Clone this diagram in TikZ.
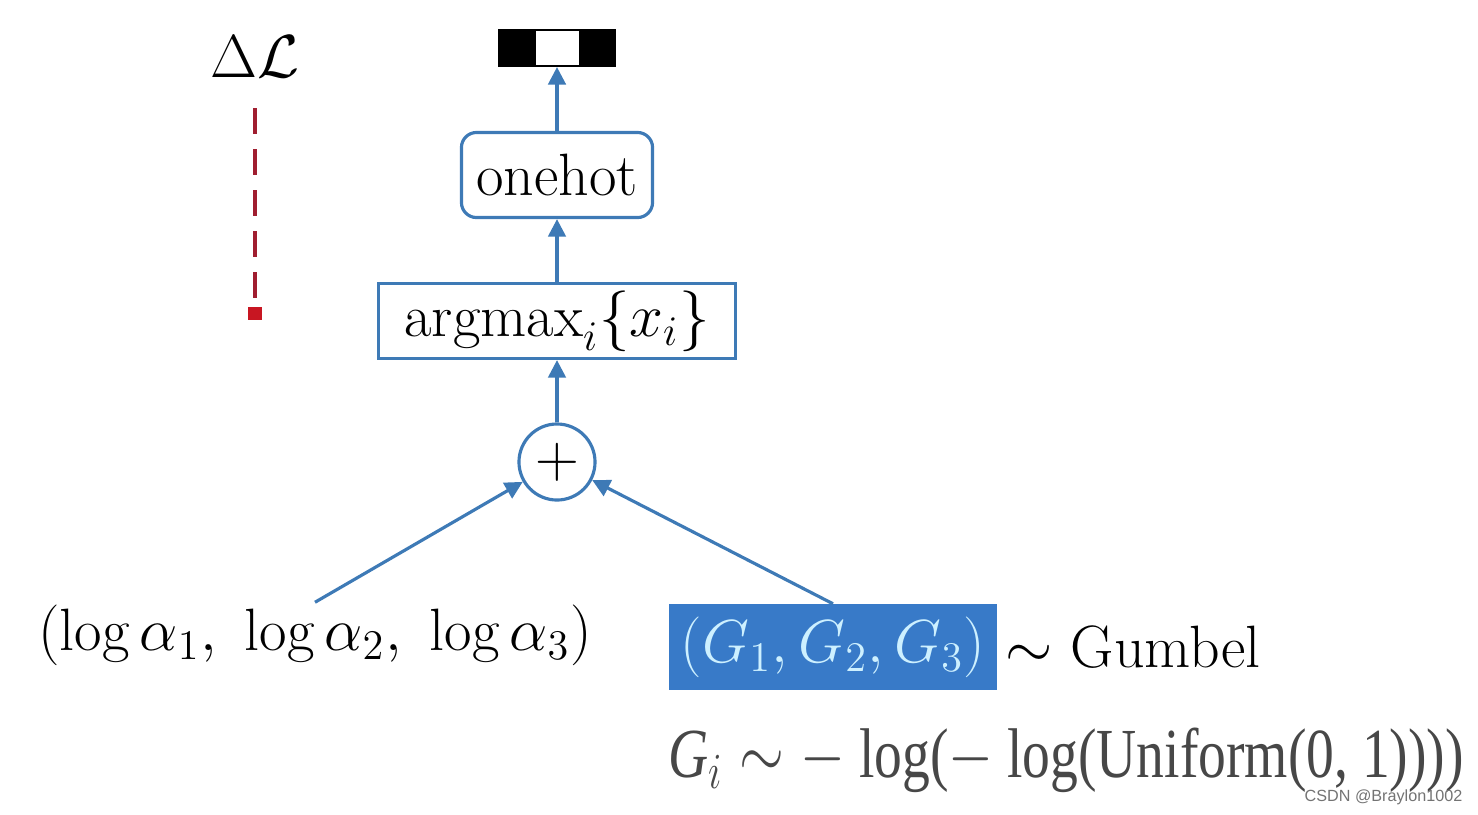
\documentclass[tikz,border=0pt]{standalone}
\usepackage{amsmath}
\usepackage{graphicx}
\usepackage{fontspec}
\usetikzlibrary{arrows.meta,positioning}
\newfontfamily\timesfont{Liberation Serif}
\newfontfamily\marksans{Liberation Sans}
\definecolor{flowblue}{RGB}{62,122,182}
\definecolor{boxblue}{RGB}{56,122,200}
\definecolor{noiseblue}{RGB}{205,240,255}
\definecolor{gradred}{RGB}{160,30,48}
\definecolor{sqred}{RGB}{200,22,34}

\begin{document}
\begin{tikzpicture}[x=0.01cm, y=-0.01cm,
		every node/.style={font=\fontsize{17}{20}\selectfont},
		flow/.style={flowblue, line width=0.9pt, -{Triangle[width=5pt,length=5pt]}},
		blockbox/.style={draw=flowblue, line width=0.9pt, inner sep=0pt}]
		\useasboundingbox (0,0) rectangle (1478,814);

		% loss and its (missing) gradient
		\node[font=\fontsize{18}{21}\selectfont] (dL) at (255,57) {$\Delta\mathcal{L}$};
		\node[fill=sqred, minimum size=0.13cm, inner sep=0pt] (gradend) at (255,313) {};
		\draw[gradred, line width=1pt, dash pattern=on 0.26cm off 0.15cm]
			([yshift=-0.18cm]dL.south) -- (gradend.north);

		% one-hot output vector
		\node[draw=black, line width=0.6pt, minimum width=1.15cm, minimum height=0.36cm, inner sep=0pt] (vec) at (557,48) {};
		\fill (vec.north west) rectangle ([xshift=0.38cm]vec.south west);
		\fill (vec.north east) rectangle ([xshift=-0.37cm]vec.south east);

		\node[blockbox, rounded corners=0.15cm, minimum width=1.91cm, minimum height=0.85cm] (onehot) at (557,175) {onehot};
		\node[blockbox, minimum width=3.57cm, minimum height=0.75cm] (argmax) at (557,321) {$\mathrm{argmax}_i\{x_i\}$};
		\node[blockbox, circle, minimum size=0.76cm] (plus) at (557,462) {$+$};

		% inputs
		\node (logs) at (315,635) {$(\log\alpha_1,\ \log\alpha_2,\ \log\alpha_3)$};
		\node[fill=boxblue, text=noiseblue, font=\fontsize{18}{21}\selectfont, minimum width=3.23cm, minimum height=0.85cm] (noise) at (833,647) {$(G_1,G_2,G_3)$};
		\node[right=0pt of noise, anchor=west, inner sep=2pt] (gumbel) {$\sim$ Gumbel};
		\node[anchor=west, inner sep=0pt, text=black!72, font=\timesfont\fontsize{20}{24}\selectfont] (uniform) at (668,760)
			{\scalebox{0.79}[1]{\textit{G}$_i\sim-$ log($-$ log(Uniform(0, 1))))}};

		\draw[flow] (argmax) -- (onehot);
		\draw[flow] (onehot) -- (vec);
		\draw[flow] (plus) -- (argmax);
		\draw[flow] ([yshift=-0.1cm]logs.north) -- (plus);
		\draw[flow] (noise.north) -- (plus);

		\node[anchor=east, inner sep=0pt, text=black!55, font=\marksans\fontsize{4.6}{5}\selectfont] (mark) at (1463,797) {CSDN @Braylon1002};
	\end{tikzpicture}
\end{document}
